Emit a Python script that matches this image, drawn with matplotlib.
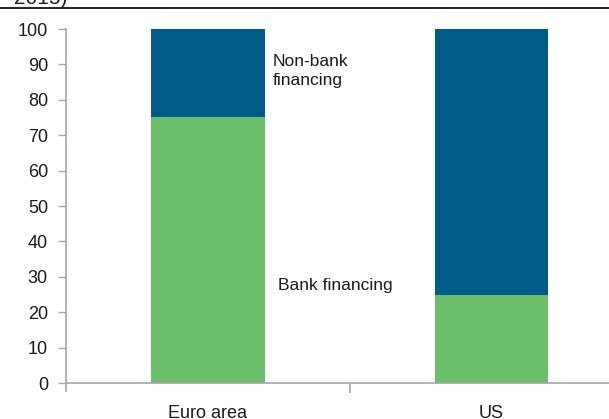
import matplotlib
matplotlib.use("Agg")
import matplotlib.pyplot as plt
from matplotlib.lines import Line2D

plt.rcParams['font.family'] = ['Liberation Sans', 'DejaVu Sans']

categories = ["Euro area", "US"]
bank = [75, 25]
non_bank = [25, 75]
yticks = list(range(0, 101, 10))

blue = "#005B88"
green = "#6BBF69"
grey = "#A6A6A6"
ink = "#1a1a1a"

fig = plt.figure(figsize=(6.09, 4.19), dpi=100)
ax = fig.add_axes([66 / 609, 36 / 419, 1 - 66 / 609, (383 - 29) / 419])

x = list(range(len(categories)))
ax.bar(x, bank, width=0.4, color=green, zorder=2)
ax.bar(x, non_bank, width=0.4, bottom=bank, color=blue, zorder=2)

ax.set_xlim(-0.5, 1.414)
ax.set_ylim(0, 100)
ax.set_yticks(yticks)
ax.set_xticks(x)
ax.set_xticklabels(categories)
ax.set_xticks([0.5], minor=True)

for s in ["top", "right"]:
    ax.spines[s].set_visible(False)
for s in ["left", "bottom"]:
    ax.spines[s].set_color(grey)
    ax.spines[s].set_linewidth(1.2)

ax.tick_params(axis="y", length=6, color=grey, width=1, pad=7, labelsize=13, labelcolor=ink)
ax.tick_params(axis="x", which="major", length=0, pad=16, labelsize=13, labelcolor=ink)
ax.tick_params(axis="x", which="minor", length=7, color=grey, width=1.2)

# left axis pokes a little below zero
ax.plot([-0.5, -0.5], [0, -2.3], color=grey, lw=1.2, clip_on=False)

# series labels sit to the right of the euro area bar
ax.text(0.229, 93.0, "Non-bank\nfinancing", fontsize=12.5, color=ink, va="top", ha="left",
        linespacing=1.35)
ax.text(0.247, 27.5, "Bank financing", fontsize=12.5, color=ink, va="center", ha="left")

# clipped caption and rule at the top of the crop
fig.text(14 / 609, 1 - 4 / 419, "2015)", fontsize=15, color=ink, va="baseline", ha="left")
fig.add_artist(Line2D([0, 1], [1 - 8 / 419, 1 - 8 / 419], color="black", lw=1.2,
                      transform=fig.transFigure))

fig.savefig("out.png", dpi=100)
